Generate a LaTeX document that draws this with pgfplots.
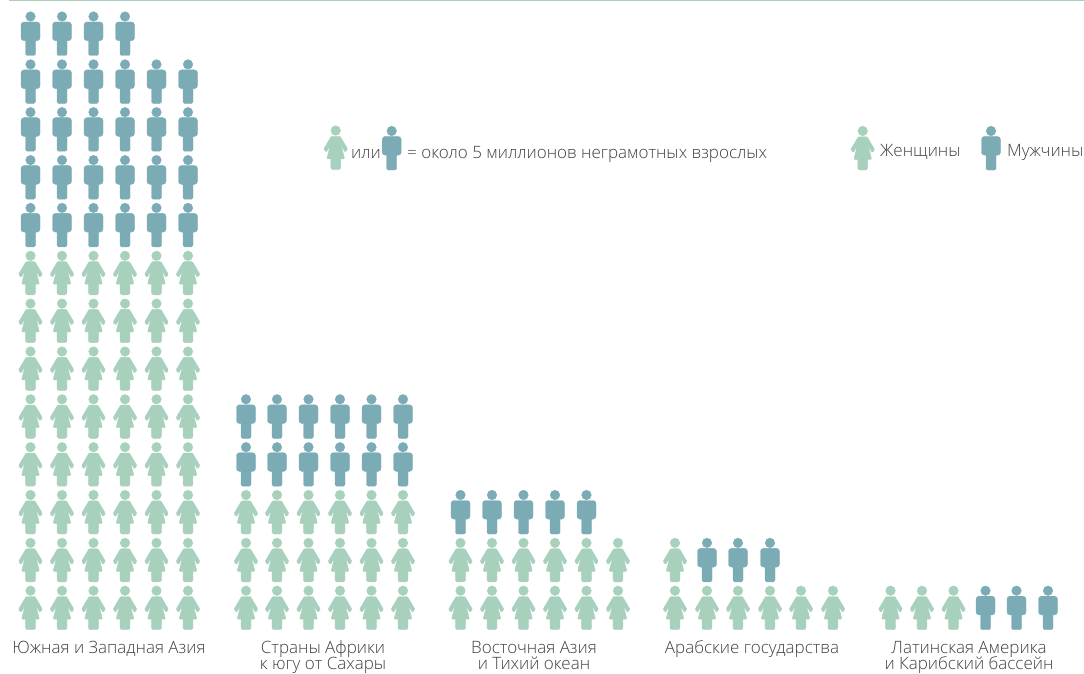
\documentclass[border=0pt]{standalone}
\usepackage{fontspec}
\setmainfont{Open Sans Light}
\usepackage{pgfplots}
\pgfplotsset{compat=1.18}
\definecolor{wom}{HTML}{A8D1BD}
\definecolor{man}{HTML}{7BACB6}
\definecolor{txt}{HTML}{404040}
\pgfdeclareplotmark{woman}{%
  \fill[wom] (0,0) circle (4.8pt);
  \fill[wom,rounded corners=0.9pt] (-4.4pt,-5.8pt) -- (4.4pt,-5.8pt) -- (12pt,-18.6pt) -- (9.4pt,-21.6pt) -- (5.4pt,-14.6pt) -- (8.9pt,-28.4pt) -- (-8.9pt,-28.4pt) -- (-5.4pt,-14.6pt) -- (-9.4pt,-21.6pt) -- (-12pt,-18.6pt) -- cycle;
  \fill[wom,rounded corners=1.5pt] (-4.9pt,-25pt) rectangle (4.9pt,-39pt);
}
\pgfdeclareplotmark{man}{%
  \fill[man] (0,0) circle (4.8pt);
  \fill[man,rounded corners=3pt] (-9.5pt,-5.5pt) rectangle (9.5pt,-24.2pt);
  \fill[man,rounded corners=1.5pt] (-5pt,-20pt) rectangle (5pt,-39pt);
}
\begin{document}
\begin{tikzpicture}
\useasboundingbox (0,0) rectangle (1084pt,674pt);
\begin{axis}[at={(0,0)},anchor=south west,hide axis,scale only axis,width=1084pt,height=674pt,
  xmin=0,xmax=1084,ymin=0,ymax=674,y dir=reverse,clip=false,
  nodes={font=\fontsize{17}{17}\selectfont,text=txt,inner sep=0pt}]
\addplot[draw=wom,line width=1.6pt,forget plot] coordinates {(9,0.6) (1084,0.6)};
\addplot[only marks,mark=woman,forget plot] coordinates {
(30.5,255.8)(62,255.8)(93.5,255.8)(125,255.8)(156.5,255.8)(188,255.8)
(30.5,303.6)(62,303.6)(93.5,303.6)(125,303.6)(156.5,303.6)(188,303.6)
(30.5,351.5)(62,351.5)(93.5,351.5)(125,351.5)(156.5,351.5)(188,351.5)
(30.5,399.3)(62,399.3)(93.5,399.3)(125,399.3)(156.5,399.3)(188,399.3)
(30.5,447.2)(62,447.2)(93.5,447.2)(125,447.2)(156.5,447.2)(188,447.2)
(30.5,495)(62,495)(93.5,495)(125,495)(156.5,495)(188,495)
(30.5,542.9)(62,542.9)(93.5,542.9)(125,542.9)(156.5,542.9)(188,542.9)
(30.5,590.7)(62,590.7)(93.5,590.7)(125,590.7)(156.5,590.7)(188,590.7)
(246,495)(277,495)(308.5,495)(340,495)(371.5,495)(403,495)
(246,542.9)(277,542.9)(308.5,542.9)(340,542.9)(371.5,542.9)(403,542.9)
(246,590.7)(277,590.7)(308.5,590.7)(340,590.7)(371.5,590.7)(403,590.7)
(460.5,542.9)(492,542.9)(523.5,542.9)(555,542.9)(586.5,542.9)(618,542.9)
(460.5,590.7)(492,590.7)(523.5,590.7)(555,590.7)(586.5,590.7)(618,590.7)
(675,542.9)
(675,590.7)(707,590.7)(738,590.7)(770,590.7)(801,590.7)(833,590.7)
(890.5,590.7)(922,590.7)(953.5,590.7)
(335.7,130.5)(862.7,131)
};
\addplot[only marks,mark=man,forget plot] coordinates {
(30.5,16.5)(62,16.5)(93.5,16.5)(125,16.5)
(30.5,64.4)(62,64.4)(93.5,64.4)(125,64.4)(156.5,64.4)(188,64.4)
(30.5,112.2)(62,112.2)(93.5,112.2)(125,112.2)(156.5,112.2)(188,112.2)
(30.5,160.1)(62,160.1)(93.5,160.1)(125,160.1)(156.5,160.1)(188,160.1)
(30.5,207.9)(62,207.9)(93.5,207.9)(125,207.9)(156.5,207.9)(188,207.9)
(246,399.3)(277,399.3)(308.5,399.3)(340,399.3)(371.5,399.3)(403,399.3)
(246,447.2)(277,447.2)(308.5,447.2)(340,447.2)(371.5,447.2)(403,447.2)
(460.5,495)(492,495)(523.5,495)(555,495)(586.5,495)
(707,542.9)(738,542.9)(770,542.9)
(985.5,590.7)(1016.5,590.7)(1048,590.7)
(391.7,131)(991,131)
};
\node[anchor=base] at (axis cs:109,653) {Южная и Западная Азия};
\node[anchor=base] at (axis cs:323,653) {Страны Африки};
\node[anchor=base] at (axis cs:323,669.5) {к югу от Сахары};
\node[anchor=base] at (axis cs:534,653) {Восточная Азия};
\node[anchor=base] at (axis cs:534,669.5) {и Тихий океан};
\node[anchor=base] at (axis cs:752,653) {Арабские государства};
\node[anchor=base] at (axis cs:969,653) {Латинская Америка};
\node[anchor=base] at (axis cs:969,669.5) {и Карибский бассейн};
\node[anchor=base west] at (axis cs:351,158.5) {или};
\node[anchor=base west] at (axis cs:407,158.5) {= около 5 миллионов неграмотных взрослых};
\node[anchor=base west] at (axis cs:880,156.5) {Женщины};
\node[anchor=base west] at (axis cs:1007,156.5) {Мужчины};
\end{axis}
\end{tikzpicture}
\end{document}
